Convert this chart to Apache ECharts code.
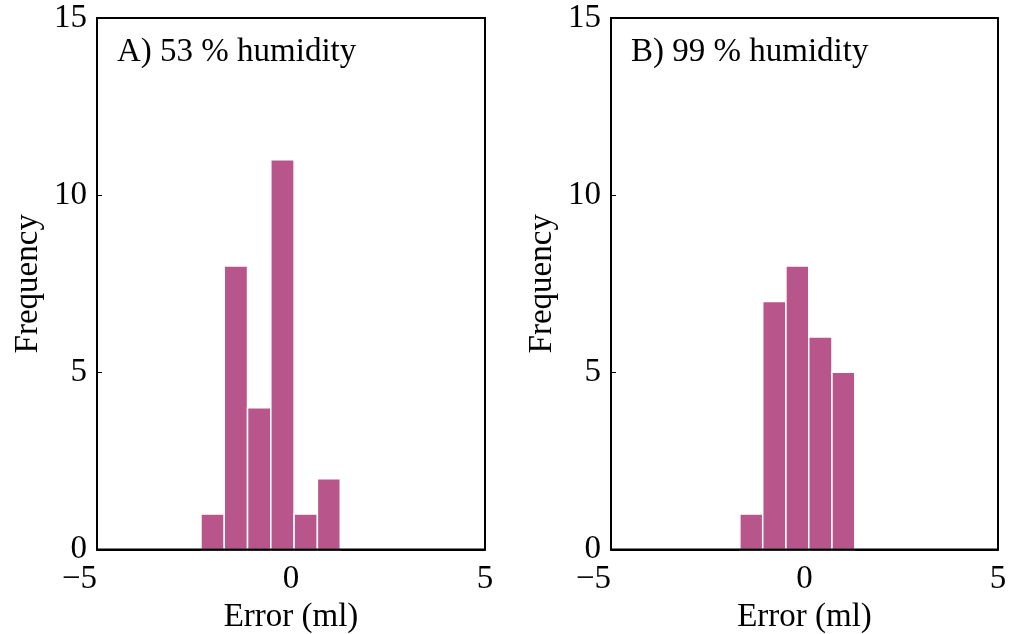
<!DOCTYPE html>
<html>
<head>
<meta charset="utf-8">
<script src="https://cdn.jsdelivr.net/npm/echarts@6/dist/echarts.min.js"></script>
<style>
html,body{margin:0;padding:0;background:#fff;}
#c{width:1009px;height:634px;}
</style>
</head>
<body>
<div id="c"></div>
<script>
// Data
const panelTitles = ['A) 53 % humidity', 'B) 99 % humidity'];
const leftBinEdges = [-2.32, -1.72, -1.12, -0.52, 0.08, 0.68, 1.27];
const leftCounts = [1, 8, 4, 11, 1, 2];
const rightBinEdges = [-1.67, -1.08, -0.48, 0.11, 0.71, 1.30];
const rightCounts = [1, 7, 8, 6, 5];
const xTicks = [-5, 0, 5];
const yTicks = [0, 5, 10, 15];
const xLabel = 'Error (ml)';
const yLabel = 'Frequency';

const FONT = '"Liberation Serif", "DejaVu Serif", serif';
const FS = 33;
const BAR = '#B8568B';

function toBins(edges, counts) {
  return counts.map((c, i) => [edges[i], edges[i + 1], c]);
}

const chart = echarts.init(document.getElementById('c'), null, {renderer: 'canvas'});

const grids = [
  {left: 97, top: 18, width: 388, height: 531.5},
  {left: 611, top: 18, width: 387, height: 531.5}
];

function xAxisFor(i) {
  return {
    type: 'value', gridIndex: i, min: xTicks[0], max: xTicks[xTicks.length - 1], interval: 5,
    name: xLabel, nameLocation: 'middle', nameGap: 39,
    nameTextStyle: {fontFamily: FONT, fontSize: FS, color: '#000'},
    axisLine: {show: true, onZero: false, lineStyle: {color: '#000', width: 2}},
    axisTick: {show: true, inside: true, length: 5, lineStyle: {color: '#000', width: 1}},
    axisLabel: {fontFamily: FONT, fontSize: FS, color: '#000', margin: 13,
      alignMinLabel: 'right', padding: [0, 0, 0, 0],
      formatter: v => (v < 0 ? '\u2212' + Math.abs(v) : String(v))},
    splitLine: {show: false}
  };
}
function yAxisFor(i) {
  return {
    type: 'value', gridIndex: i, min: yTicks[0], max: yTicks[yTicks.length - 1], interval: 5,
    name: yLabel, nameLocation: 'middle', nameGap: 52,
    nameTextStyle: {fontFamily: FONT, fontSize: FS, color: '#000'},
    axisLine: {show: true, onZero: false, lineStyle: {color: '#000', width: 2}},
    axisTick: {show: true, inside: true, length: 5, lineStyle: {color: '#000', width: 1}},
    axisLabel: {fontFamily: FONT, fontSize: FS, color: '#000', margin: 10},
    splitLine: {show: false}
  };
}

function histSeries(i, data) {
  return {
    type: 'custom', xAxisIndex: i, yAxisIndex: i,
    encode: {x: [0, 1], y: 2},
    data: data,
    renderItem: function (params, api) {
      const p0 = api.coord([api.value(0), 0]);
      const p1 = api.coord([api.value(1), api.value(2)]);
      return {
        type: 'rect',
        shape: {x: p0[0], y: p1[1], width: p1[0] - p0[0], height: p0[1] - p1[1]},
        style: {fill: BAR, stroke: '#fff', lineWidth: 1.5}
      };
    },
    z: 1
  };
}

chart.setOption({
  animation: false,
  backgroundColor: '#fff',
  grid: grids.map(g => Object.assign({show: true, containLabel: false, outerBoundsMode: 'none', borderColor: '#000', borderWidth: 2, backgroundColor: 'transparent', z: 5}, g)),
  title: [
    {text: panelTitles[0], left: 117, top: 36, padding: 0, textStyle: {fontFamily: FONT, fontSize: FS, fontWeight: 'normal', color: '#000'}},
    {text: panelTitles[1], left: 631, top: 36, padding: 0, textStyle: {fontFamily: FONT, fontSize: FS, fontWeight: 'normal', color: '#000'}}
  ],
  xAxis: [xAxisFor(0), xAxisFor(1)],
  yAxis: [yAxisFor(0), yAxisFor(1)],
  series: [
    histSeries(0, toBins(leftBinEdges, leftCounts)),
    histSeries(1, toBins(rightBinEdges, rightCounts))
  ]
});
</script>
</body>
</html>
